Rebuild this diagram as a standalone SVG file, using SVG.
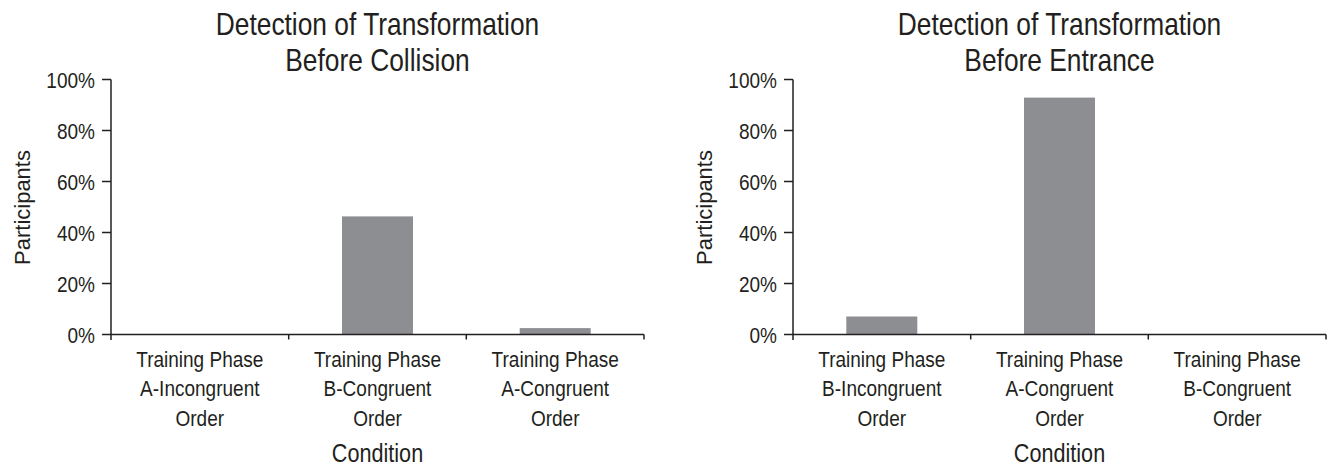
<svg xmlns="http://www.w3.org/2000/svg" width="1327" height="467" viewBox="0 0 1327 467">
  <style>
    text { font-family: "Liberation Sans", Arial, sans-serif; fill: #231f20; }
    .title { font-size: 31px; text-anchor: middle; }
    .tick { font-size: 22px; text-anchor: end; }
    .cat { font-size: 22px; text-anchor: middle; }
    .xlab { font-size: 25px; text-anchor: middle; }
    .ylab { font-size: 22px; text-anchor: middle; }
    .axis { stroke: #231f20; stroke-width: 1.5; fill: none; }
    .bar { fill: #8d8e92; }
  </style>
  <defs>
    <g id="chartFrame">
      <line class="axis" x1="111" y1="79.5" x2="111" y2="340"/>
      <line class="axis" x1="111" y1="334.5" x2="644" y2="334.5"/>
      <path class="axis" d="M102 79.5H111M102 130.5H111M102 181.5H111M102 232.5H111M102 283.5H111M102 334.5H111"/>
      <path class="axis" d="M288.7 334.5V339.5M466.3 334.5V339.5M644 334.5V339.5"/>
      <text class="tick" transform="translate(95 87.5) scale(0.865 1)">100%</text>
      <text class="tick" transform="translate(95 138.5) scale(0.865 1)">80%</text>
      <text class="tick" transform="translate(95 189.5) scale(0.865 1)">60%</text>
      <text class="tick" transform="translate(95 240.5) scale(0.865 1)">40%</text>
      <text class="tick" transform="translate(95 291.5) scale(0.865 1)">20%</text>
      <text class="tick" transform="translate(95 342.5) scale(0.865 1)">0%</text>
      <text class="ylab" transform="translate(29.5 207.5) rotate(-90)">Participants</text>
      <text class="xlab" transform="translate(377.5 461.7) scale(0.865 1)">Condition</text>
    </g>
  </defs>

  <!-- Left chart -->
  <g id="chart-collision">
    <g id="collision-bars">
      <rect class="bar" x="342" y="216.4" width="71" height="118.1"/>
      <rect class="bar" x="519.7" y="328.1" width="71" height="6.4"/>
    </g>
    <use href="#chartFrame"/>
    <g id="collision-title">
      <text class="title" transform="translate(377.5 35) scale(0.85 1)">Detection of Transformation</text>
      <text class="title" transform="translate(377.5 71) scale(0.85 1)">Before Collision</text>
    </g>
    <g id="collision-cat1">
      <text class="cat" transform="translate(199.8 367) scale(0.865 1)">Training Phase</text>
      <text class="cat" transform="translate(199.8 396) scale(0.865 1)">A-Incongruent</text>
      <text class="cat" transform="translate(199.8 426) scale(0.865 1)">Order</text>
    </g>
    <g id="collision-cat2">
      <text class="cat" transform="translate(377.5 367) scale(0.865 1)">Training Phase</text>
      <text class="cat" transform="translate(377.5 396) scale(0.865 1)">B-Congruent</text>
      <text class="cat" transform="translate(377.5 426) scale(0.865 1)">Order</text>
    </g>
    <g id="collision-cat3">
      <text class="cat" transform="translate(555.2 367) scale(0.865 1)">Training Phase</text>
      <text class="cat" transform="translate(555.2 396) scale(0.865 1)">A-Congruent</text>
      <text class="cat" transform="translate(555.2 426) scale(0.865 1)">Order</text>
    </g>
  </g>

  <!-- Right chart -->
  <g id="chart-entrance">
    <g id="entrance-bars">
      <rect class="bar" x="846.3" y="316.5" width="71" height="18"/>
      <rect class="bar" x="1024" y="97.6" width="71" height="236.9"/>
    </g>
    <use href="#chartFrame" transform="translate(682 0)"/>
    <g id="entrance-title">
      <text class="title" transform="translate(1059.5 35) scale(0.85 1)">Detection of Transformation</text>
      <text class="title" transform="translate(1059.5 71) scale(0.85 1)">Before Entrance</text>
    </g>
    <g id="entrance-cat1">
      <text class="cat" transform="translate(881.8 367) scale(0.865 1)">Training Phase</text>
      <text class="cat" transform="translate(881.8 396) scale(0.865 1)">B-Incongruent</text>
      <text class="cat" transform="translate(881.8 426) scale(0.865 1)">Order</text>
    </g>
    <g id="entrance-cat2">
      <text class="cat" transform="translate(1059.5 367) scale(0.865 1)">Training Phase</text>
      <text class="cat" transform="translate(1059.5 396) scale(0.865 1)">A-Congruent</text>
      <text class="cat" transform="translate(1059.5 426) scale(0.865 1)">Order</text>
    </g>
    <g id="entrance-cat3">
      <text class="cat" transform="translate(1237.2 367) scale(0.865 1)">Training Phase</text>
      <text class="cat" transform="translate(1237.2 396) scale(0.865 1)">B-Congruent</text>
      <text class="cat" transform="translate(1237.2 426) scale(0.865 1)">Order</text>
    </g>
  </g>
</svg>
